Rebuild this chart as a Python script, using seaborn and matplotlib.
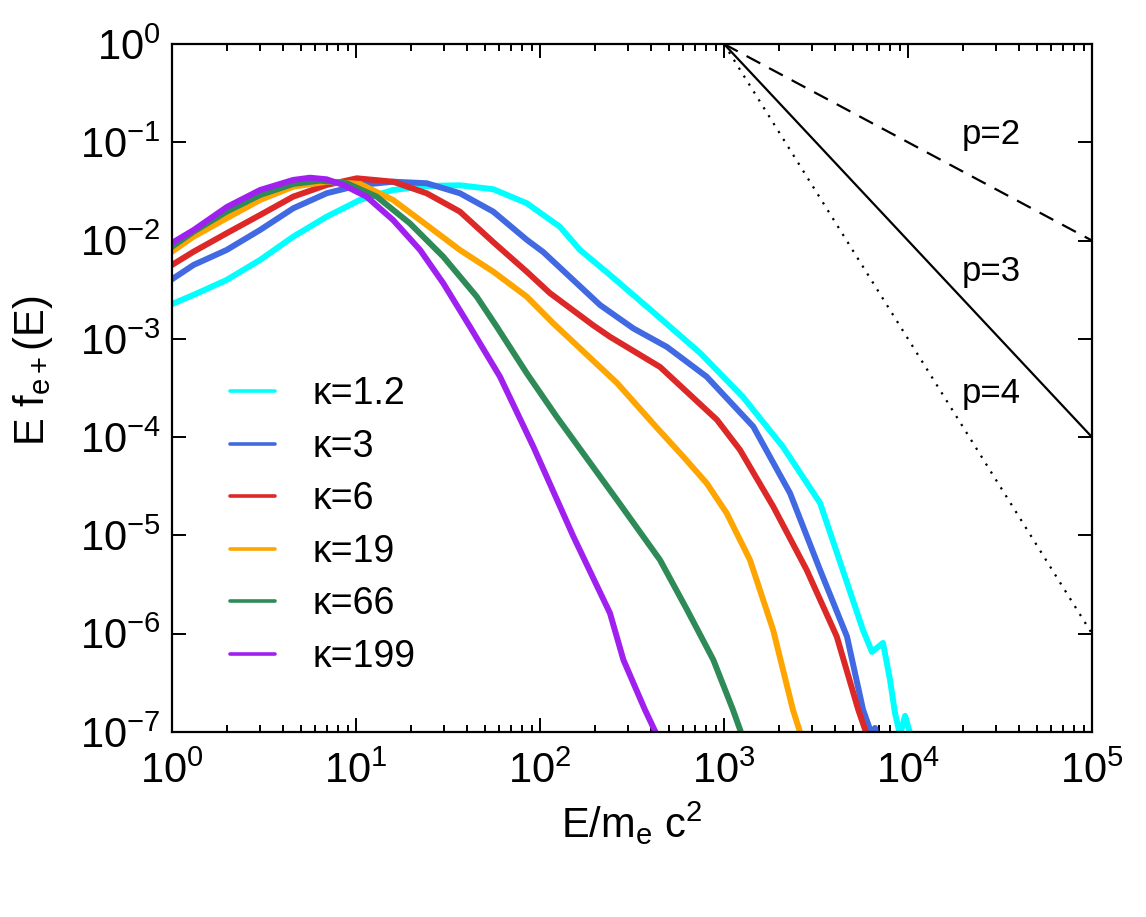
import numpy as np
import pandas as pd
import matplotlib
matplotlib.use("Agg")
import matplotlib.pyplot as plt
from matplotlib.lines import Line2D
from matplotlib.ticker import LogLocator, LogFormatterMathtext, NullLocator, NullFormatter
import seaborn as sns

# ---------------- data ----------------
kappa_labels = ["κ=1.2", "κ=3", "κ=6", "κ=19", "κ=66", "κ=199"]
colors = ["#00FFFF", "#4169E1", "#DD2828", "#FFA500", "#2E8B57", "#A020F0"]

cyan_E = [1, 1.31, 1.98, 3.01, 4.56, 6.93, 10.5, 15.9, 24.2, 36.7, 55.7, 84.7, 128, 165,
          240, 411, 741, 1268, 2094, 3326, 4111, 5692, 6372, 7314, 7985, 8497, 9052, 9636, 10520]
cyan_F = [2.26e-3, 2.80e-3, 3.97e-3, 6.35e-3, 0.01096, 0.0175, 0.0259, 0.0327, 0.0359, 0.0365,
          0.0333, 0.0240, 0.01385, 8.02e-3, 4.47e-3, 1.88e-3, 7.19e-4, 2.56e-4, 7.94e-5, 2.14e-5,
          6.64e-6, 1.09e-6, 6.53e-7, 8.06e-7, 3.39e-7, 1.56e-7, 9.3e-8, 1.46e-7, 8.3e-8]

blue_E = [1, 1.31, 1.98, 3.01, 4.56, 6.93, 10.5, 15.9, 24.2, 36.7, 55.7, 85, 104, 212, 321,
          490, 805, 1443, 2285, 3326, 4660, 5700, 6372, 6620, 6860]
blue_F = [4.04e-3, 5.65e-3, 8.02e-3, 0.01282, 0.0213, 0.0303, 0.0368, 0.0397, 0.0383, 0.0303,
          0.0197, 0.01014, 7.66e-3, 2.21e-3, 1.28e-3, 8.27e-4, 4.12e-4, 1.28e-4, 2.69e-5,
          4.46e-6, 9.35e-7, 1.68e-7, 9.3e-8, 1.10e-7, 8.0e-8]

red_E = [1, 1.31, 1.98, 3.01, 4.56, 6.93, 10.1, 15.9, 24.2, 36.7, 55.6, 85, 113, 194, 240,
         449, 916, 1222, 1854, 2813, 4100, 5370, 5986]
red_F = [5.65e-3, 7.71e-3, 0.01186, 0.0182, 0.0280, 0.0368, 0.0430, 0.0397, 0.0303, 0.0197,
         9.68e-3, 4.80e-3, 2.93e-3, 1.38e-3, 1.05e-3, 5.18e-4, 1.50e-4, 7.41e-5, 1.96e-5,
         4.46e-6, 9.35e-7, 1.68e-7, 9.3e-8]

orange_E = [1, 1.31, 1.98, 3.01, 4.56, 6.93, 10.5, 15.9, 24.2, 36.7, 55.7, 84.7, 118, 262,
            431, 601, 805, 1035, 1384, 1850, 2370, 2620]
orange_F = [7.71e-3, 0.01096, 0.01686, 0.0259, 0.0353, 0.0397, 0.0377, 0.0259, 0.01442,
            8.02e-3, 4.83e-3, 2.69e-3, 1.44e-3, 3.56e-4, 1.25e-4, 6.33e-5, 3.40e-5, 1.68e-5,
            5.63e-6, 1.09e-6, 1.68e-7, 9.3e-8]

green_E = [1, 1.31, 1.98, 3.01, 4.56, 6.37, 8.9, 12.96, 19.6, 29.8, 45.3, 58.2, 84.7, 123,
           262, 449, 630, 875, 1119, 1253]
green_F = [8.67e-3, 0.01232, 0.01968, 0.0291, 0.0377, 0.0407, 0.0383, 0.0280, 0.0150, 6.86e-3,
           2.69e-3, 1.33e-3, 4.47e-4, 1.62e-4, 2.30e-5, 5.63e-6, 1.75e-6, 5.42e-7, 1.68e-7, 9.3e-8]

purple_E = [1, 1.31, 1.99, 3.01, 4.56, 5.62, 6.93, 8.53, 11.4, 15.9, 22.3, 29.8, 41.6, 60.6,
            92, 152, 240, 284, 372, 432]
purple_F = [9.46e-3, 0.0128, 0.0220, 0.0327, 0.0414, 0.0436, 0.0420, 0.0368, 0.0280, 0.0162,
            8.02e-3, 3.68e-3, 1.33e-3, 4.12e-4, 8.0e-5, 9.72e-6, 1.62e-6, 5.42e-7, 1.68e-7, 9.3e-8]

# reference power laws (E f(E) ~ E^-(p-1)) starting at E=1e3
pl_E = [1e3, 1e5]
pl_p2 = [1.0, 1e-2]
pl_p3 = [1.0, 1e-4]
pl_p4 = [1.0, 1e-6]
pl_labels = ["p=2", "p=3", "p=4"]
pl_label_E = [1.96e4, 1.96e4, 1.96e4]
pl_label_F = [0.119, 4.8e-3, 2.8e-4]

x_ticks = [1e0, 1e1, 1e2, 1e3, 1e4, 1e5]
y_ticks = [1e-7, 1e-6, 1e-5, 1e-4, 1e-3, 1e-2, 1e-1, 1e0]

# ---------------- build long-form table ----------------
series_E = [cyan_E, blue_E, red_E, orange_E, green_E, purple_E]
series_F = [cyan_F, blue_F, red_F, orange_F, green_F, purple_F]
frames = []
for lab, E, F in zip(kappa_labels, series_E, series_F):
    frames.append(pd.DataFrame({"E": E, "F": F, "kappa": lab}))
df = pd.concat(frames, ignore_index=True)

# ---------------- style ----------------
sns.set_style("ticks")
plt.rcParams["font.family"] = ["Liberation Sans", "DejaVu Sans"]
plt.rcParams["mathtext.fontset"] = "custom"
plt.rcParams["mathtext.rm"] = "Liberation Sans"
plt.rcParams["mathtext.it"] = "Liberation Sans:italic"
plt.rcParams["mathtext.bf"] = "Liberation Sans:bold"
plt.rcParams["mathtext.sf"] = "Liberation Sans"
for k in ["text.color", "axes.labelcolor", "xtick.color", "ytick.color", "axes.edgecolor"]:
    plt.rcParams[k] = "black"

fig = plt.figure(figsize=(11.46, 9.17), dpi=100)
ax = fig.add_axes([172 / 1146, (917 - 732) / 917, 920 / 1146, 688 / 917])

palette = dict(zip(kappa_labels, colors))
sns.lineplot(data=df, x="E", y="F", hue="kappa", hue_order=kappa_labels, palette=palette,
             units="kappa", estimator=None, sort=False, linewidth=4.3, legend=False, ax=ax)

pl_df = pd.DataFrame({"E": pl_E * 3, "F": pl_p2 + pl_p3 + pl_p4,
                      "p": ["p2"] * 2 + ["p3"] * 2 + ["p4"] * 2})
sns.lineplot(data=pl_df[pl_df.p == "p2"], x="E", y="F", color="black", linewidth=1.6,
             estimator=None, sort=False, ax=ax, linestyle=(0, (7, 4.5)))
sns.lineplot(data=pl_df[pl_df.p == "p3"], x="E", y="F", color="black", linewidth=1.6,
             estimator=None, sort=False, ax=ax)
sns.lineplot(data=pl_df[pl_df.p == "p4"], x="E", y="F", color="black", linewidth=1.6,
             estimator=None, sort=False, ax=ax, linestyle=(0, (1, 3.2)))

for t, xe, yf in zip(pl_labels, pl_label_E, pl_label_F):
    ax.text(xe, yf, t, fontsize=25, ha="left", va="center", color="black")

ax.set_xscale("log")
ax.set_yscale("log")
ax.set_xlim(1, 1e5)
ax.set_ylim(1e-7, 1)

ax.xaxis.set_major_locator(LogLocator(base=10, numticks=20))
ax.xaxis.set_minor_locator(LogLocator(base=10, subs=np.arange(2, 10), numticks=20))
ax.xaxis.set_major_formatter(LogFormatterMathtext())
ax.xaxis.set_minor_formatter(NullFormatter())
ax.set_xticks(x_ticks)
ax.yaxis.set_major_locator(LogLocator(base=10, numticks=20))
ax.yaxis.set_minor_locator(NullLocator())
ax.yaxis.set_major_formatter(LogFormatterMathtext())
ax.set_yticks(y_ticks)

ax.tick_params(which="both", direction="in", top=True, right=True, width=1.4, colors="black")
ax.tick_params(which="major", length=10, labelsize=30)
ax.tick_params(which="minor", length=5)
ax.tick_params(axis="x", which="major", pad=14)
ax.tick_params(axis="y", which="major", pad=8)
for s in ax.spines.values():
    s.set_linewidth(1.6)
    s.set_color("black")

ax.set_xlabel(r"E/m$_\mathrm{e}$ c$^\mathrm{2}$", fontsize=30, color="black")
ax.set_ylabel(r"E f$_\mathrm{e+}$(E)", fontsize=30, color="black")
ax.xaxis.set_label_coords(0.5, -0.098)
ax.yaxis.set_label_coords(-0.127, 0.525)

handles = [Line2D([], [], color=c, linewidth=2.6) for c in colors]
leg = ax.legend(handles, kappa_labels, loc="upper left", bbox_to_anchor=(0.063, 0.517),
                frameon=False, fontsize=27, handlelength=1.2, handletextpad=1.0,
                labelspacing=0.44, borderpad=0, borderaxespad=0)
for txt in leg.get_texts():
    txt.set_color("black")

fig.savefig("out.png", dpi=100, facecolor="white")
